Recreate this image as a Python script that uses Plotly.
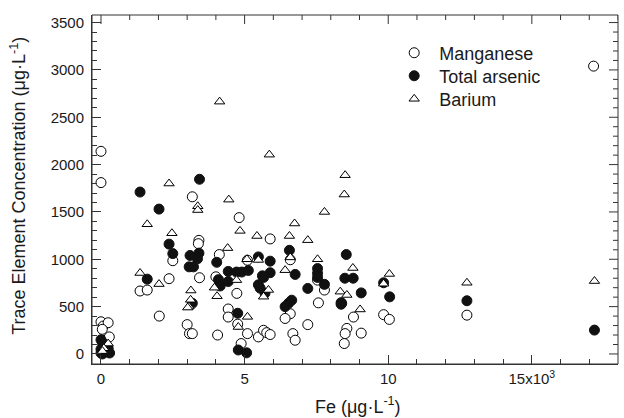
import plotly.graph_objects as go

# Manganese (open circles)
mn_x = [0, 80, 250, 45, 290, 0, 0,
        1360, 1610, 2030, 2370, 2500, 3000, 3080, 3180, 3180, 3410, 3390, 3430,
        4000, 4120, 4060, 4430, 4430, 4730, 4760, 4810, 4880, 5100, 5100,
        5480, 5660, 5770, 5890, 5890, 6590, 6590, 6410, 6680, 6760, 7200,
        7540, 7780, 7570, 8560, 8500, 8470, 8790, 9060, 8380, 9840, 10040,
        12740, 17150]
mn_y = [340, 295, 330, 260, 180, 1810, 2140,
        665, 675, 400, 795, 985, 310, 215, 215, 1660, 1200, 1165, 805,
        815, 1050, 200, 475, 390, 640, 315, 1440, 110, 215, 990,
        180, 250, 225, 205, 1215, 995, 425, 375, 215, 145, 310,
        780, 675, 540, 270, 215, 110, 390, 220, 535, 415, 365,
        410, 3040]

# Total arsenic (filled circles)
as_x = [0, 50, 100, 0, 150, 250, 300, 50, 200, 120, 0, 250,
        1360, 1610, 2020, 2370, 2500, 3100, 3410, 3360, 3070, 3220, 3180, 3430,
        4030, 4090, 4150, 4430, 4430, 4720, 4900, 5130, 4760, 4780, 5070,
        5480, 5890, 5890, 5620, 5660, 5480, 5540, 5710,
        6560, 6760, 6640, 6530, 6410, 7200, 7540, 7540, 7540, 7780,
        8540, 8490, 8780, 8360, 8360, 9060, 9840, 10050, 12740, 17180]
as_y = [150, 120, 80, 50, 30, 20, 10, 0, 60, 100, 10, 60,
        1710, 790, 1530, 1160, 1060, 1040, 1065, 1005, 920, 920, 535, 1845,
        968, 785, 718, 872, 765, 865, 865, 882, 430, 42, 12,
        1025, 980, 858, 825, 808, 730, 695, 642,
        1095, 840, 568, 535, 500, 692, 902, 852, 808, 735,
        1050, 800, 800, 542, 525, 645, 752, 603, 562, 252]

# Barium (open triangles)
ba_x = [250, 100, 50,
        1360, 1610, 2020, 2370, 2470, 3130, 3120, 3060, 3020, 3370, 3370,
        3950, 4040, 4130, 4410, 4450, 4720, 4780, 4840, 5080, 5100,
        5430, 5480, 5830, 5660, 5860, 6410, 6560, 6740, 6590, 7200, 7540,
        7780, 8330, 8560, 8500, 8470, 8770, 9020, 10040, 9840, 12740, 17180]
ba_y = [110, 60, 30,
        855, 1370, 738, 1800, 1275, 670, 572, 500, 490, 1560, 1520,
        700, 610, 2665, 1118, 1630, 780, 285, 1300, 1000, 392,
        1246, 993, 676, 605, 2105, 885, 1246, 1378, 1020, 1202, 1000,
        1500, 658, 623, 1888, 1684, 908, 470, 845, 742, 752, 770]

x_tickvals = [0, 5000, 10000, 15000]
x_ticktext = ["0", "5", "10", "15x10<sup>3</sup>"]
y_tickvals = [0, 500, 1000, 1500, 2000, 2500, 3000, 3500]
x_minor_step = 1000
y_minor_step = 100
x_range = [-313, 18000]
y_range = [-106, 3580]

FONT = "Liberation Sans, Arial, Helvetica, sans-serif"
AX = "#333333"
MAJ, MIN = 9, 5

fig = go.Figure()
fig.add_trace(go.Scatter(
    x=mn_x, y=mn_y, mode="markers", name="Manganese", legend="legend",
    marker=dict(symbol="circle", size=10, color="white",
                line=dict(color="black", width=1))))
fig.add_trace(go.Scatter(
    x=as_x, y=as_y, mode="markers", name="Total arsenic", legend="legend2",
    marker=dict(symbol="circle", size=10, color="#111111",
                line=dict(color="#111111", width=1))))
fig.add_trace(go.Scatter(
    x=ba_x, y=ba_y, mode="markers", name="Barium", legend="legend3",
    marker=dict(symbol="triangle-up", size=9, color="white",
                line=dict(color="black", width=1))))

axis_common = dict(
    showgrid=False, zeroline=False, showline=True, linecolor=AX,
    linewidth=1, ticks="inside", ticklen=MAJ, tickwidth=1, tickcolor=AX,
    tickfont=dict(family=FONT, size=15, color="#1a1a1a"),
)
fig.update_xaxes(
    **axis_common, range=x_range, tickmode="array",
    tickvals=x_tickvals, ticktext=x_ticktext, ticklabelstandoff=1,
    minor=dict(ticks="inside", ticklen=MIN, dtick=x_minor_step, tick0=0,
               tickcolor=AX, tickwidth=1))
fig.update_yaxes(
    **axis_common, range=y_range, tickmode="array",
    tickvals=y_tickvals, ticklabelstandoff=4,
    minor=dict(ticks="inside", ticklen=MIN, dtick=y_minor_step, tick0=0,
               tickcolor=AX, tickwidth=1))

# frame box (top and right sides)
fig.add_shape(type="rect", xref="paper", yref="paper", x0=0, x1=1, y0=0, y1=1,
              line=dict(color=AX, width=1), layer="above")

# mirrored tick marks on the top axis, placed by the x scale
x_end = int(x_range[1])
for v in range(0, x_end + 1, x_minor_step):
    ln = MAJ if v in x_tickvals else MIN
    fig.add_shape(type="line", xref="x", yref="paper", x0=v, x1=v,
                  ysizemode="pixel", yanchor=1, y0=0, y1=-ln,
                  line=dict(color=AX, width=1), layer="above")
# mirrored tick marks on the right axis, placed by the y scale
y_end = int(y_tickvals[-1])
for v in range(0, y_end + 1, y_minor_step):
    ln = MAJ if v in y_tickvals else MIN
    fig.add_shape(type="line", xref="paper", yref="y", y0=v, y1=v,
                  xsizemode="pixel", xanchor=1, x0=0, x1=-ln,
                  line=dict(color=AX, width=1), layer="above")

fig.add_annotation(
    text="Fe (μg·L<sup>-1</sup>)", xref="paper", yref="paper",
    x=0.506, y=-0.12, showarrow=False, xanchor="center", yanchor="middle",
    font=dict(family=FONT, size=18, color="#1a1a1a"))
fig.add_annotation(
    text="Trace Element Concentration (μg·L<sup>-1</sup>)", xref="paper",
    yref="paper", x=-0.141, y=0.51, showarrow=False, textangle=-90,
    xanchor="center", yanchor="middle",
    font=dict(family=FONT, size=18, color="#1a1a1a"))

leg_common = dict(xanchor="left", yanchor="middle", bgcolor="rgba(0,0,0,0)",
                  font=dict(family=FONT, size=18, color="#1a1a1a"),
                  itemwidth=40)
fig.update_layout(
    width=624, height=418,
    margin=dict(l=92, r=6, t=15, b=54),
    plot_bgcolor="white", paper_bgcolor="white",
    showlegend=True,
    legend=dict(x=0.565, y=0.891, **leg_common),
    legend2=dict(x=0.565, y=0.825, **leg_common),
    legend3=dict(x=0.565, y=0.759, **leg_common),
)

fig.write_html("out.html", config={"displayModeBar": False},
               post_script="document.body.style.margin='0';")
